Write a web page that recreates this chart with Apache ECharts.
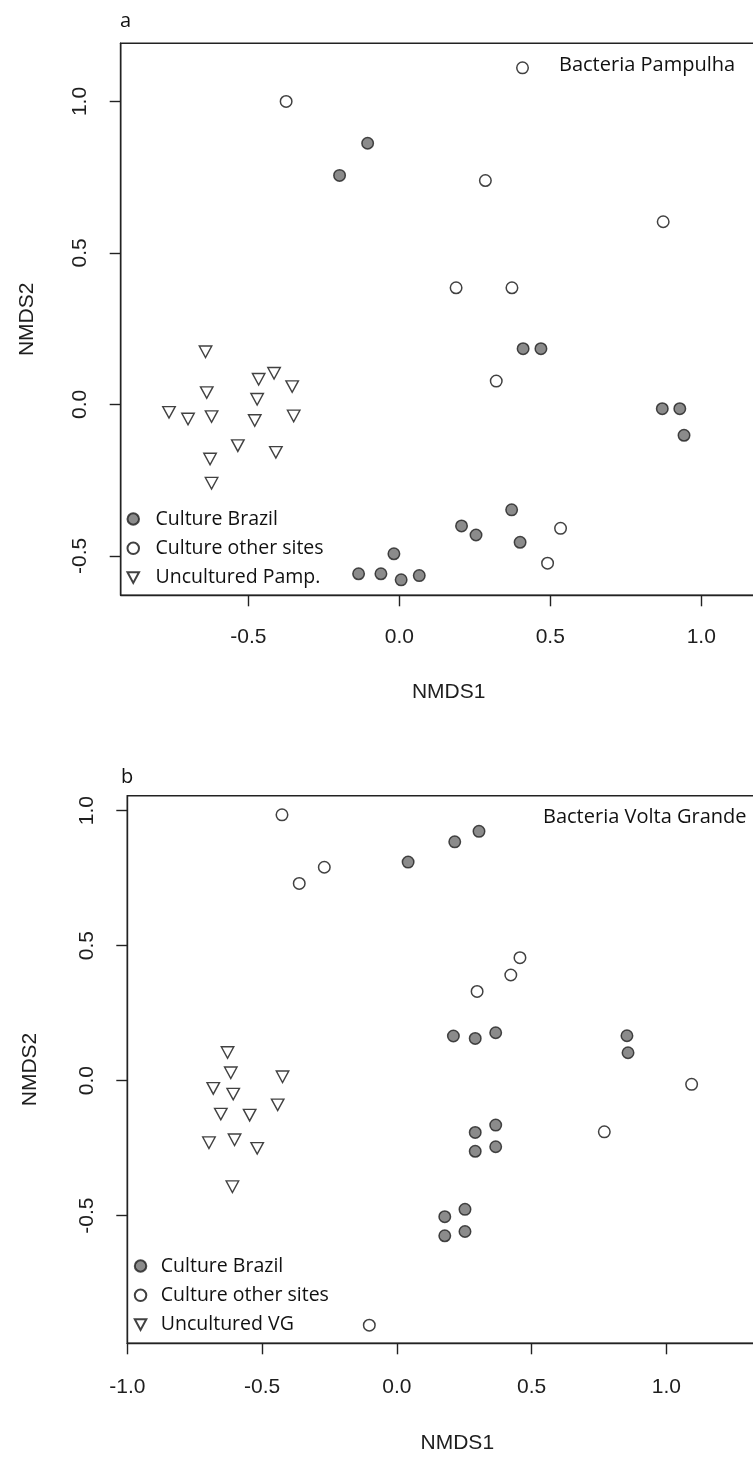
<!DOCTYPE html>
<html>
<head>
<meta charset="utf-8">
<script src="https://cdn.jsdelivr.net/npm/echarts@6/dist/echarts.min.js"></script>
<style>
  html, body { margin: 0; padding: 0; background: #fff; }
  #chart { width: 753px; height: 1457px; }
</style>
</head>
<body>
<div id="chart"></div>
<script>
// NMDS ordination scores, panel a (Pampulha)
const pampBrazil = [
  [-0.198, 0.756], [-0.105, 0.862], [0.410, 0.184], [0.469, 0.184],
  [0.871, -0.014], [0.929, -0.014], [0.943, -0.102], [0.372, -0.348],
  [0.206, -0.401], [0.254, -0.431], [0.400, -0.455], [-0.135, -0.559],
  [-0.061, -0.559], [-0.018, -0.493], [0.006, -0.579], [0.066, -0.565]
];
const pampOther = [
  [-0.375, 1.000], [0.408, 1.111], [0.285, 0.739], [0.874, 0.603],
  [0.188, 0.385], [0.373, 0.385], [0.321, 0.077], [0.534, -0.409],
  [0.491, -0.524]
];
const pampUncult = [
  [-0.642, 0.174], [-0.466, 0.083], [-0.415, 0.103], [-0.355, 0.059],
  [-0.638, 0.039], [-0.471, 0.017], [-0.763, -0.026], [-0.700, -0.048],
  [-0.622, -0.040], [-0.479, -0.053], [-0.350, -0.038], [-0.535, -0.136],
  [-0.409, -0.158], [-0.627, -0.180], [-0.622, -0.260]
];

// NMDS ordination scores, panel b (Volta Grande)
const vgBrazil = [
  [0.042, 0.809], [0.215, 0.884], [0.305, 0.923], [0.210, 0.165],
  [0.291, 0.156], [0.367, 0.177], [0.854, 0.166], [0.858, 0.103],
  [0.367, -0.165], [0.291, -0.192], [0.291, -0.262], [0.367, -0.245],
  [0.253, -0.477], [0.178, -0.504], [0.178, -0.575], [0.253, -0.559]
];
const vgOther = [
  [-0.426, 0.984], [-0.269, 0.790], [-0.362, 0.730], [0.298, 0.330],
  [0.423, 0.391], [0.457, 0.455], [1.094, -0.014], [0.770, -0.190],
  [-0.102, -0.906]
];
const vgUncult = [
  [-0.628, 0.104], [-0.616, 0.029], [-0.424, 0.014], [-0.681, -0.029],
  [-0.607, -0.050], [-0.442, -0.090], [-0.653, -0.124], [-0.546, -0.128],
  [-0.697, -0.230], [-0.602, -0.219], [-0.518, -0.251], [-0.610, -0.393]
];

// tick positions
const ticksXA = [-0.5, 0.0, 0.5, 1.0];
const ticksYA = [-0.5, 0.0, 0.5, 1.0];
const ticksXB = [-1.0, -0.5, 0.0, 0.5, 1.0];
const ticksYB = [-0.5, 0.0, 0.5, 1.0];

const LBL_FONT = '"Liberation Sans", Arial, sans-serif';
const TXT_FONT = '"Open Sans", Lato, sans-serif';
const INK = '#1e1e1e';
const FRAME = '#222';
const downTri = 'path://M0,0L12,0L6,11Z';

function xAxisCfg(gi, min, max, ticks, margin, nameGap) {
  return {
    gridIndex: gi, type: 'value', min: min, max: max,
    name: 'NMDS1', nameLocation: 'middle', nameGap: nameGap,
    nameTextStyle: { fontFamily: LBL_FONT, fontSize: 21, color: INK },
    axisLine: { show: true, onZero: false, lineStyle: { color: FRAME, width: 1.4 } },
    axisTick: { show: true, length: 11, customValues: ticks, lineStyle: { color: FRAME, width: 1.4 } },
    axisLabel: { customValues: ticks, margin: margin, fontFamily: LBL_FONT, fontSize: 21, color: INK,
                 formatter: v => Number(v).toFixed(1) },
    splitLine: { show: false }
  };
}
function yAxisCfg(gi, min, max, ticks, margin, nameGap) {
  return {
    gridIndex: gi, type: 'value', min: min, max: max,
    name: 'NMDS2', nameLocation: 'middle', nameGap: nameGap, nameRotate: 90,
    nameTextStyle: { fontFamily: LBL_FONT, fontSize: 21, color: INK },
    axisLine: { show: true, onZero: false, lineStyle: { color: FRAME, width: 1.4 } },
    axisTick: { show: true, length: 11, customValues: ticks, lineStyle: { color: FRAME, width: 1.4 } },
    axisLabel: { customValues: ticks, margin: margin, rotate: 90, fontFamily: LBL_FONT, fontSize: 21, color: INK,
                 formatter: v => Number(v).toFixed(1) },
    splitLine: { show: false }
  };
}

const filledStyle = { color: '#6e6e6e', borderColor: '#1e1e1e', borderWidth: 1.5 };
const openStyle = { color: '#ffffff', borderColor: '#111111', borderWidth: 1.5 };
const triStyle = { color: '#ffffff', borderColor: '#111111', borderWidth: 1.4 };

function sc(name, gi, data, symbol, size, style) {
  return {
    name: name, type: 'scatter', xAxisIndex: gi, yAxisIndex: gi,
    data: data, symbol: symbol, symbolSize: size, itemStyle: style,
    emphasis: { disabled: true }, z: 3
  };
}

function legendCfg(names, left, top, pad) {
  return {
    data: names.map(n => ({ name: n })),
    orient: 'vertical', left: left, top: top,
    itemWidth: 11.5, itemHeight: 11.5, itemGap: 7.3,
    selectedMode: false, padding: 0,
    textStyle: { fontFamily: TXT_FONT, fontSize: 19.5, color: '#111', lineHeight: 22,
                 padding: [0, 0, 0, pad] }
  };
}

function gridCfg(left, top, width, height) {
  return {
    left: left, top: top, width: width, height: height,
    outerBoundsMode: 'none', containLabel: false,
    show: true, borderColor: FRAME, borderWidth: 1.4, backgroundColor: 'transparent'
  };
}

function textCfg(str, x, y, size) {
  return { type: 'text', x: x, y: y,
           style: { text: str, fontFamily: TXT_FONT, fontSize: size, fill: '#111', verticalAlign: 'middle' } };
}

const chart = echarts.init(document.getElementById('chart'), null, { renderer: 'canvas' });
chart.setOption({
  animation: false,
  backgroundColor: '#ffffff',
  grid: [
    gridCfg(120.7, 43.3, 656, 552),
    gridCfg(127.3, 795.7, 660, 547.6)
  ],
  xAxis: [
    xAxisCfg(0, -0.923, 1.25, ticksXA, 31.5, 86.5),
    xAxisCfg(1, -1.0, 1.449, ticksXB, 33, 89)
  ],
  yAxis: [
    yAxisCfg(0, -0.63, 1.192, ticksYA, 30, 83),
    yAxisCfg(1, -0.973, 1.055, ticksYB, 30, 87)
  ],
  legend: [
    legendCfg(['Culture Brazil', 'Culture other sites', 'Uncultured Pamp.'], 126.5, 508, 11.5),
    legendCfg(['Culture Brazil', 'Culture other sites', 'Uncultured VG'], 133.8, 1255, 9.5)
  ],
  graphic: [
    textCfg('a', 120, 21, 20),
    textCfg('b', 121, 777, 20),
    textCfg('Bacteria Pampulha', 559, 65, 20),
    textCfg('Bacteria Volta Grande', 543, 817, 20)
  ],
  series: [
    sc('Culture Brazil', 0, pampBrazil, 'circle', 11.5, filledStyle),
    sc('Culture other sites', 0, pampOther, 'circle', 11.5, openStyle),
    sc('Uncultured Pamp.', 0, pampUncult, downTri, [12.5, 11.5], triStyle),
    sc('Culture Brazil', 1, vgBrazil, 'circle', 11.5, filledStyle),
    sc('Culture other sites', 1, vgOther, 'circle', 11.5, openStyle),
    sc('Uncultured VG', 1, vgUncult, downTri, [12.5, 11.5], triStyle)
  ]
});
</script>
</body>
</html>
